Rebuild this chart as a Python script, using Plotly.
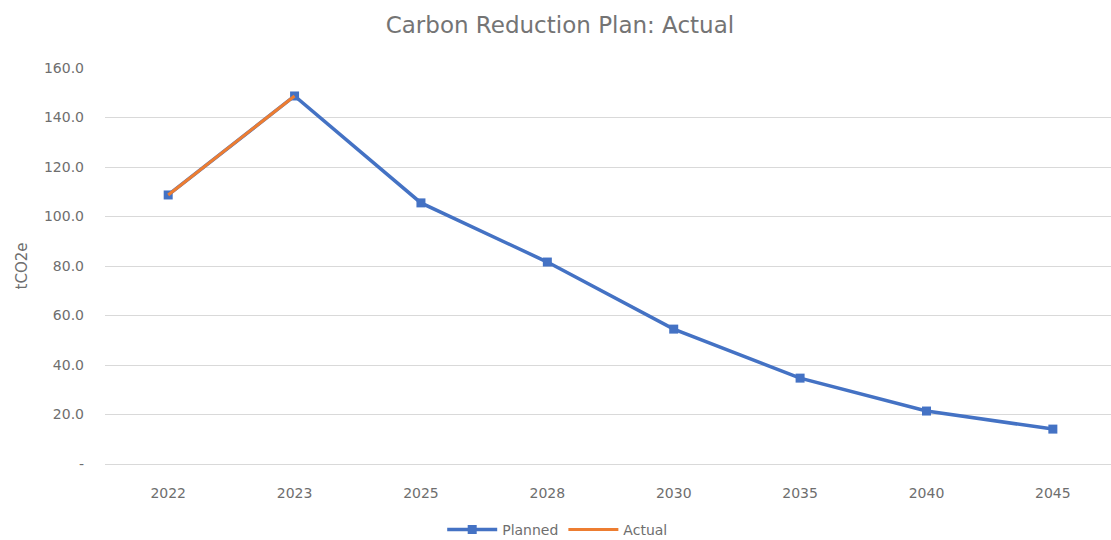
import plotly.graph_objects as go

years = ["2022", "2023", "2025", "2028", "2030", "2035", "2040", "2045"]
planned = [108.7, 148.7, 105.5, 81.6, 54.5, 34.7, 21.4, 14.1]
actual_years = ["2022", "2023"]
actual = [108.7, 148.7]
ytick_vals = [0, 20, 40, 60, 80, 100, 120, 140, 160]
ytick_text = ["-", "20.0", "40.0", "60.0", "80.0", "100.0", "120.0", "140.0", "160.0"]

grey = "#6e6e6e"
font_family = "DejaVu Sans, Liberation Sans, sans-serif"

fig = go.Figure()
fig.add_trace(go.Scatter(
    x=years, y=planned, name="Planned", mode="lines+markers",
    line=dict(color="#4472C4", width=3.5),
    marker=dict(symbol="square", size=9, color="#4472C4"),
))
fig.add_trace(go.Scatter(
    x=actual_years, y=actual, name="Actual", mode="lines",
    line=dict(color="#ED7D31", width=3),
))

fig.update_layout(
    width=1111, height=540,
    margin=dict(l=105, r=0, t=68, b=76, autoexpand=False),
    paper_bgcolor="white", plot_bgcolor="white",
    font=dict(family=font_family, color=grey, size=14),
    title=dict(text="Carbon Reduction Plan: Actual", x=0.504, xanchor="center",
               y=1 - 25 / 540, yanchor="middle",
               font=dict(size=23, color="#747474", family=font_family)),
    xaxis=dict(type="category", range=[-0.5, 7.46], autorange=False,
               showgrid=False, showline=True,
               linecolor="#d9d9d9", linewidth=1, ticks="",
               ticklabelstandoff=16, tickfont=dict(size=14, color=grey)),
    yaxis=dict(range=[0, 160], tickvals=ytick_vals, ticktext=ytick_text,
               showgrid=True, gridcolor="#d9d9d9", gridwidth=1,
               zeroline=False, showline=False, ticks="",
               ticklabelstandoff=20,
               title=dict(text="tCO2e", standoff=12, font=dict(size=15, color=grey)),
               tickfont=dict(size=14, color=grey)),
    legend=dict(orientation="h", x=0.45, xanchor="center", y=-66 / 396,
                yanchor="middle", font=dict(size=14, color=grey),
                itemwidth=50),
    showlegend=True,
)

fig.write_html("out.html")
